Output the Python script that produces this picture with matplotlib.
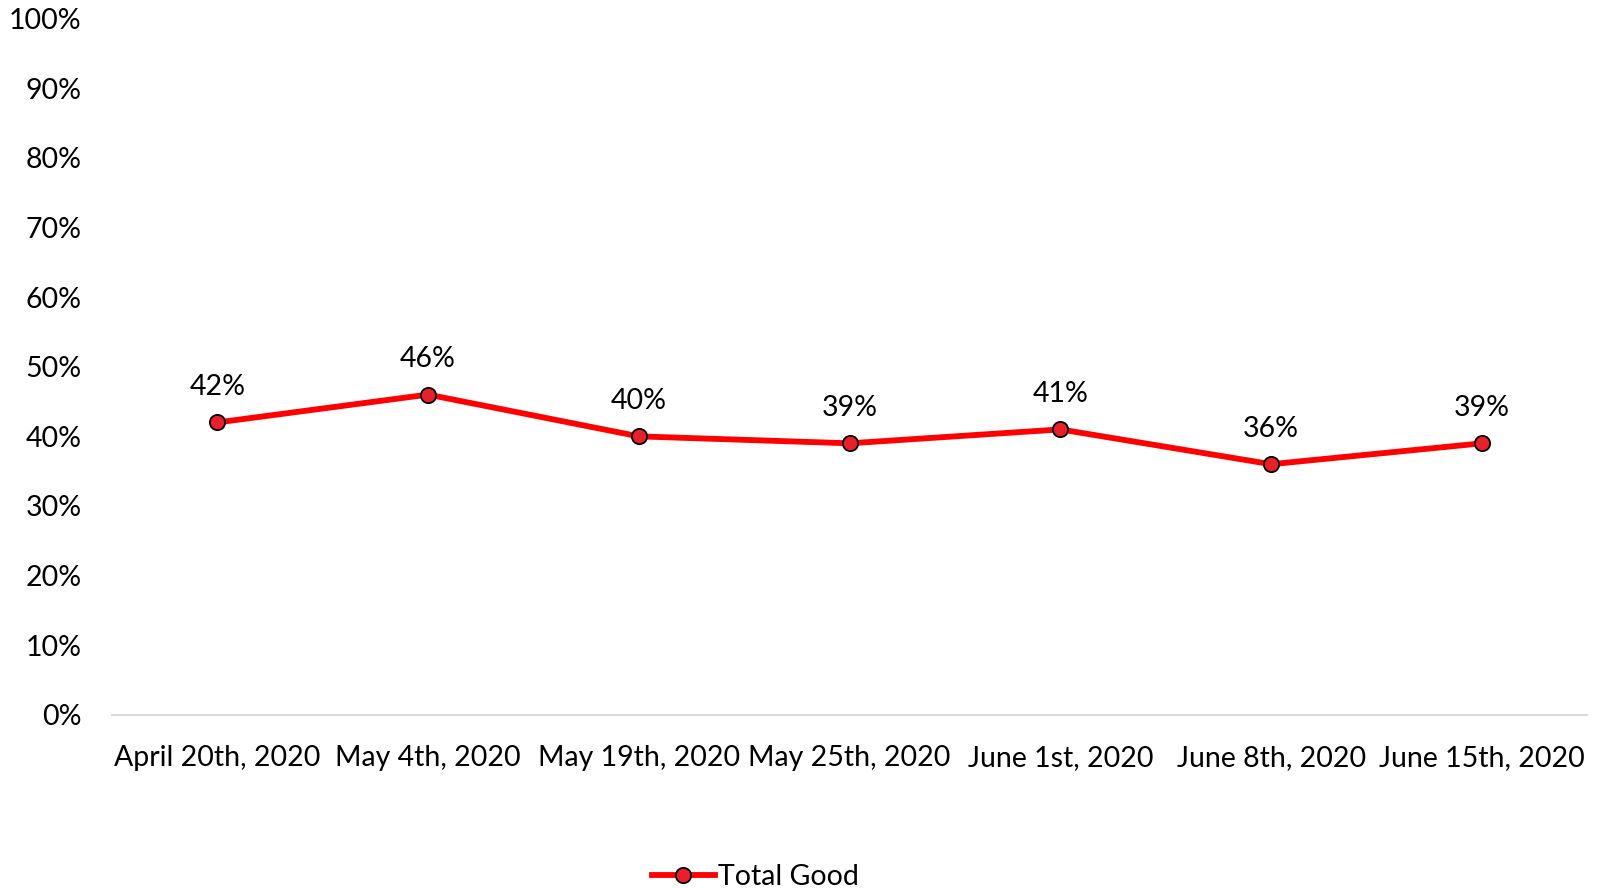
import matplotlib
matplotlib.use("Agg")
import matplotlib.pyplot as plt
from matplotlib.ticker import PercentFormatter

categories = ["April 20th, 2020", "May 4th, 2020", "May 19th, 2020", "May 25th, 2020",
              "June 1st, 2020", "June 8th, 2020", "June 15th, 2020"]
total_good = [42, 46, 40, 39, 41, 36, 39]
series_name = "Total Good"

plt.rcParams['font.family'] = ['Lato', 'DejaVu Sans']

fig = plt.figure(figsize=(16, 8.88), dpi=100)
ax = fig.add_axes([0.07, 0.195, 0.922, 0.784])

x = list(range(len(categories)))
ax.plot(x, total_good, color="#FF0000", linewidth=4.2, marker="o", markersize=11,
        markerfacecolor="#E8202A", markeredgecolor="black", markeredgewidth=1.3,
        label=series_name, zorder=3)
for xi, v in zip(x, total_good):
    ax.annotate(f"{v}%", (xi, v), xytext=(0, 16), textcoords="offset points",
                ha="center", va="bottom", fontsize=20.5, color="black")

ax.set_xlim(-0.5, len(categories) - 0.5)
ax.set_ylim(0, 100)
ax.set_yticks(range(0, 101, 10))
ax.yaxis.set_major_formatter(PercentFormatter(decimals=0))
ax.set_xticks(x)
ax.set_xticklabels(categories)
ax.tick_params(axis="both", length=0, labelsize=20.5, colors="black")
ax.tick_params(axis="x", pad=22)
ax.tick_params(axis="y", pad=22)
for s in ["top", "right", "left"]:
    ax.spines[s].set_visible(False)
ax.spines["bottom"].set_color("#D9D9D9")
ax.spines["bottom"].set_linewidth(1.5)

fig.legend(loc="center", bbox_to_anchor=(0.472, 0.012), frameon=False, fontsize=20.5,
           handlelength=2.2, handletextpad=0.1)

fig.savefig("out.png", dpi=100)
